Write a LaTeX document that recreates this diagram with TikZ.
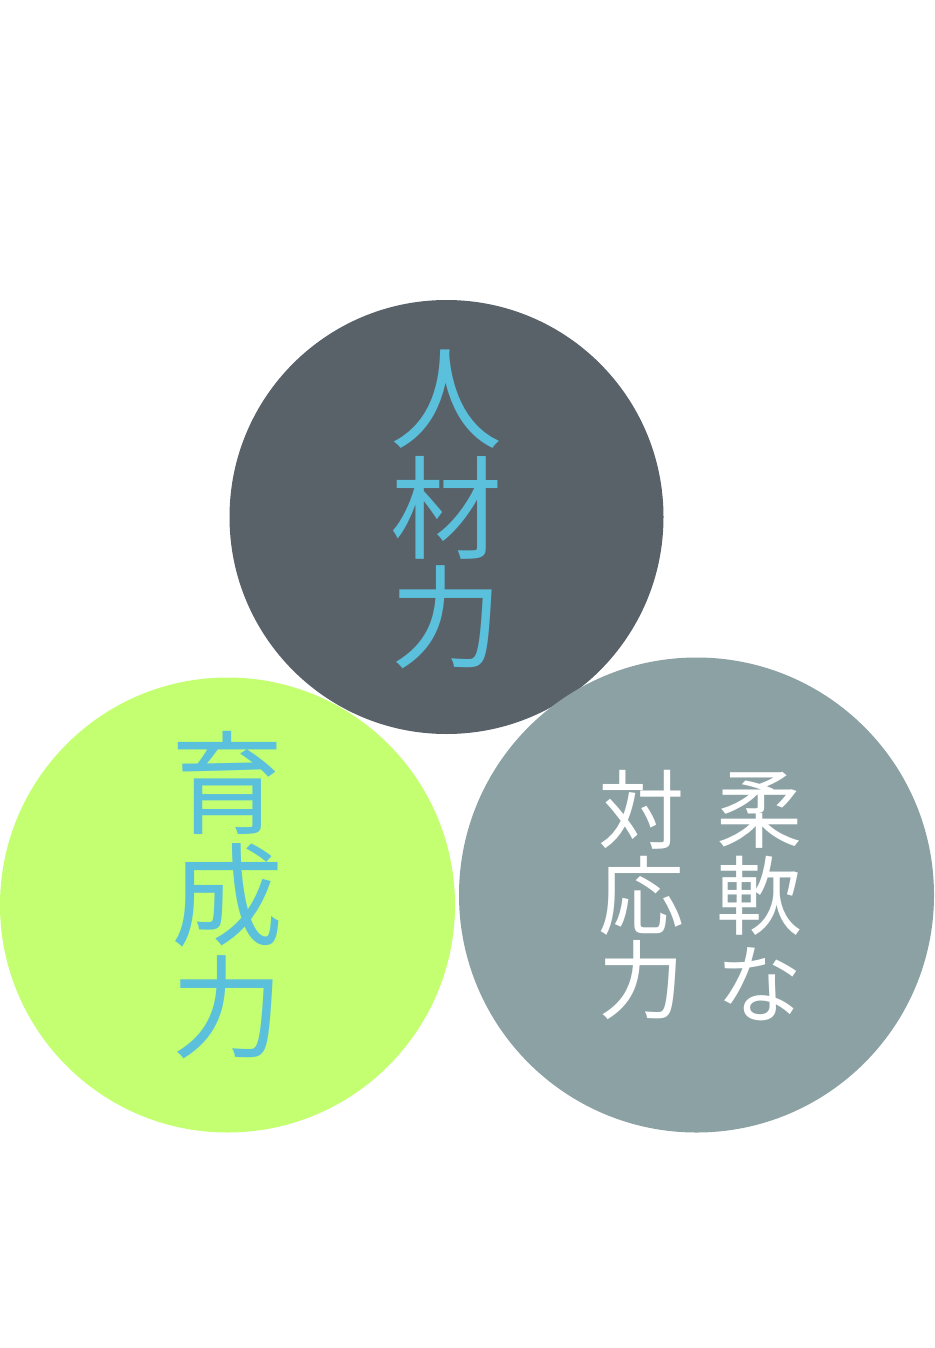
\documentclass[tikz,border=0pt]{standalone}
\usepackage{fontspec}
\newfontfamily\jpfont{Noto Sans CJK JP}
\definecolor{darkc}{HTML}{596169}
\definecolor{greenc}{HTML}{C3FF71}
\definecolor{grayc}{HTML}{8CA1A4}
\definecolor{bluet}{HTML}{5BC0DB}
\tikzset{
  bigchar/.style={inner sep=0pt, text=bluet, font=\jpfont\fontsize{112}{112}\selectfont},
  smallchar/.style={inner sep=0pt, text=white, font=\jpfont\fontsize{86}{86}\selectfont}
}
\begin{document}
\begin{tikzpicture}[x=1pt,y=-1pt]
\useasboundingbox (0,0) rectangle (934,1348);
\fill[white] (0,0) rectangle (934,1348);
% circles
\fill[greenc] (227.5,905) circle[radius=227.5];
\fill[darkc] (446.5,517) circle[radius=217];
\fill[grayc] (696.5,895) circle[radius=237.5];
% 人材力
\node[bigchar] (c1a) at (446,399) {人};
\node[bigchar] (c1b) at (446,508) {材};
\node[bigchar] (c1c) at (446,617) {力};
% 育成力
\node[bigchar] (c2a) at (227,783) {育};
\node[bigchar] (c2b) at (227,895) {成};
\node[bigchar] (c2c) at (227,1007) {力};
% 柔軟な
\node[smallchar] (c3a) at (759,810) {柔};
\node[smallchar] (c3b) at (759,896) {軟};
\node[smallchar] (c3c) at (759,984) {な};
% 対応力
\node[smallchar] (c4a) at (641,810) {対};
\node[smallchar] (c4b) at (641,896) {応};
\node[smallchar] (c4c) at (641,980) {力};
\end{tikzpicture}
\end{document}
